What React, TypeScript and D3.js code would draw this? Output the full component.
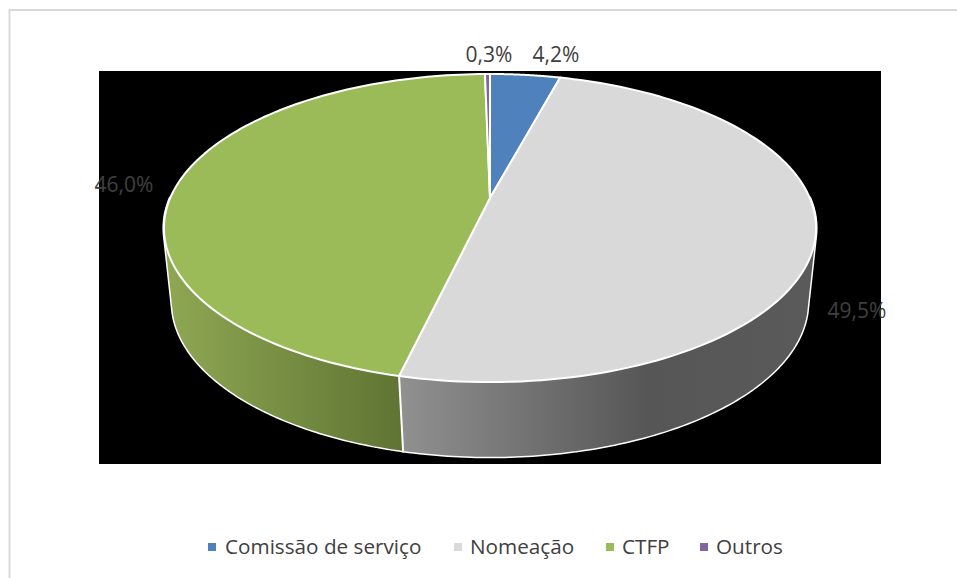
import React from 'react'
import * as d3 from 'd3'

const categories = ['Comissão de serviço', 'Nomeação', 'CTFP', 'Outros']
const shares = [4.2, 49.5, 46.0, 0.3]
const shareLabels = ['4,2%', '49,5%', '46,0%', '0,3%']
const topColors = ['#4f81bd', '#d9d9d9', '#9bbb59', '#8064a2']

const W = 957, H = 578
const FONT = '"Open Sans", sans-serif'
const TEXT = '#404040'

// perspective of the tilted disks, k pulls the near edge towards the viewer
const topDisk = { cx: 490, cy: 198, a: 319.8, b: 148.2, k: 0.195 }
const baseDisk = { cx: 490, cy: 275, a: 313, b: 150, k: 0.175 }
type Disk = typeof topDisk

const project = (d: Disk, t: number): [number, number] => {
  const u = Math.sin(t), v = -Math.cos(t), s = 1 - d.k * v
  return [d.cx + d.a * u / s, d.cy + d.b * v / s]
}

const sweep = (from: number, to: number) =>
  d3.range(0, 121).map(i => from + (to - from) * i / 120)

const line = d3.line()

// wall drawn as many small quads wound the same way, so the fold at the silhouette stays filled
const wallPath = (from: number, to: number) => {
  const ts = sweep(from, to)
  return ts.slice(1).map((t, i) => {
    const quad = [project(topDisk, ts[i]), project(topDisk, t), project(baseDisk, t), project(baseDisk, ts[i])]
    const ordered = d3.polygonArea(quad) < 0 ? quad.reverse() : quad
    return line(ordered) + 'Z'
  }).join('')
}

const legendItems = [
  { swatch: 208, text: 225 },
  { swatch: 454, text: 470 },
  { swatch: 606, text: 622 },
  { swatch: 700, text: 716 },
]
const labelAnchors: [number, number][] = [[556, 62], [857, 318], [124, 192], [489, 62]]

export default function App() {
  const arcs = d3.pie<number>().sort(null)(shares)
  const front = arcs
    .map((a, i) => ({
      i,
      from: Math.max(a.startAngle, Math.PI / 2),
      to: Math.min(a.endAngle, Math.PI * 1.5),
    }))
    .filter(s => s.to > s.from)
  const seams = arcs.map(a => a.endAngle).filter(t => t > Math.PI / 2 && t < Math.PI * 1.5)

  return (
    <svg width={W} height={H} style={{ position: 'absolute', left: 0, top: 0 }}>
      <defs>
        <linearGradient id="wall-1" gradientUnits="userSpaceOnUse" x1={403} x2={810} y1={0} y2={0}>
          <stop offset="0" stopColor="#909090" />
          <stop offset="0.6" stopColor="#565656" />
          <stop offset="1" stopColor="#5a5a5a" />
        </linearGradient>
        <linearGradient id="wall-2" gradientUnits="userSpaceOnUse" x1={168} x2={402} y1={0} y2={0}>
          <stop offset="0" stopColor="#8ea753" />
          <stop offset="1" stopColor="#5f7433" />
        </linearGradient>
      </defs>
      <rect x={0} y={0} width={W} height={H} fill="#fff" />
      <path d="M9.5,578V10H957" fill="none" stroke="#d9d9d9" strokeWidth={2} />
      <rect x={99} y={71} width={782} height={393} fill="#000" />

      {front.map(s => (
        <path key={'halo' + s.i} d={wallPath(s.from, s.to)} fill="none" stroke="#fff" strokeWidth={3} strokeLinejoin="round" />
      ))}
      {front.map(s => (
        <path key={'wall' + s.i} d={wallPath(s.from, s.to)} fill={`url(#wall-${s.i})`} />
      ))}
      {seams.map(t => (
        <line key={t} x1={project(topDisk, t)[0]} y1={project(topDisk, t)[1]}
          x2={project(baseDisk, t)[0]} y2={project(baseDisk, t)[1]} stroke="#fff" strokeWidth={2} />
      ))}

      {arcs.map((a, i) => (
        <path key={i}
          d={line([[topDisk.cx, topDisk.cy], ...sweep(a.startAngle, a.endAngle).map(t => project(topDisk, t))])! + 'Z'}
          fill={topColors[i]} stroke="#fff" strokeWidth={2} strokeLinejoin="round" />
      ))}

      {shareLabels.map((s, i) => (
        <text key={s} x={labelAnchors[i][0]} y={labelAnchors[i][1]} textAnchor="middle"
          fontFamily={FONT} fontSize={21} fill={TEXT}>{s}</text>
      ))}

      {categories.map((c, i) => (
        <g key={c}>
          <rect x={legendItems[i].swatch} y={543} width={8} height={8} fill={topColors[i]} />
          <text x={legendItems[i].text} y={554} fontFamily={FONT} fontSize={20.7} fill={TEXT}>{c}</text>
        </g>
      ))}
    </svg>
  )
}
